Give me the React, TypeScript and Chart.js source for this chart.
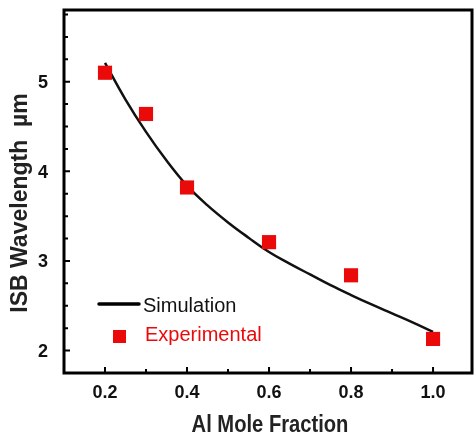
import { useEffect, useRef } from "react";
import { Chart, registerables } from "chart.js";

Chart.register(...registerables);

// Measured intersubband wavelength vs Al mole fraction
const fractions = [0.2, 0.3, 0.4, 0.6, 0.8, 1.0];
const measured = [5.1, 4.64, 3.82, 3.21, 2.84, 2.13];

// Simulated curve
const simFractions = [0.2, 0.25, 0.3, 0.35, 0.4, 0.45, 0.5, 0.55, 0.6, 0.65, 0.7, 0.75, 0.8, 0.85, 0.9, 0.95, 1.0];
const simWavelength = [5.21, 4.8, 4.44, 4.12, 3.84, 3.62, 3.43, 3.26, 3.1, 2.97, 2.85, 2.73, 2.62, 2.515, 2.415, 2.315, 2.21];

// Axis ticks
const xTicks = [0.2, 0.4, 0.6, 0.8, 1.0];
const xTickLabels = ["0.2", "0.4", "0.6", "0.8", "1.0"];
const xMinorTicks = [0.1, 0.3, 0.5, 0.7, 0.9];
const yTicks = [2, 3, 4, 5];
const yTickLabels = ["2", "3", "4", "5"];
const yMinorTicks = [2.25, 2.5, 2.75, 3.25, 3.5, 3.75, 4.25, 4.5, 4.75, 5.25, 5.5, 5.75];

const FONT = "'Liberation Sans', Arial, sans-serif";
const RED = "#ea0a0a";

const framePlugin = {
  id: "frameAndDecor",
  afterDraw(chart: any) {
    const { ctx, chartArea } = chart;
    const { left, right, top, bottom } = chartArea;
    const xs = chart.scales.x;
    const ys = chart.scales.y;
    ctx.save();

    // frame
    ctx.strokeStyle = "#000";
    ctx.lineWidth = 3;
    ctx.strokeRect(left, top, right - left, bottom - top);

    // inward ticks
    ctx.lineWidth = 2;
    ctx.beginPath();
    for (const v of xTicks) {
      const px = xs.getPixelForValue(v);
      ctx.moveTo(px, bottom);
      ctx.lineTo(px, bottom - 6);
    }
    for (const v of xMinorTicks) {
      const px = xs.getPixelForValue(v);
      ctx.moveTo(px, bottom);
      ctx.lineTo(px, bottom - 4);
    }
    for (const v of yTicks) {
      const py = ys.getPixelForValue(v);
      ctx.moveTo(left, py);
      ctx.lineTo(left + 6, py);
    }
    for (const v of yMinorTicks) {
      const py = ys.getPixelForValue(v);
      ctx.moveTo(left, py);
      ctx.lineTo(left + 4, py);
    }
    ctx.stroke();

    // tick labels
    ctx.fillStyle = "#111";
    ctx.font = `bold 18px ${FONT}`;
    ctx.textBaseline = "alphabetic";
    ctx.textAlign = "center";
    xTicks.forEach((v, i) => {
      ctx.fillText(xTickLabels[i], xs.getPixelForValue(v), bottom + 25);
    });
    ctx.textAlign = "right";
    yTicks.forEach((v, i) => {
      ctx.fillText(yTickLabels[i], left - 16, ys.getPixelForValue(v) + 6.5);
    });

    // legend
    ctx.lineWidth = 3.5;
    ctx.lineCap = "round";
    ctx.beginPath();
    ctx.moveTo(99, 304);
    ctx.lineTo(139, 304);
    ctx.stroke();
    ctx.fillStyle = RED;
    ctx.fillRect(113, 330, 13, 13);
    ctx.font = `20px ${FONT}`;
    ctx.textAlign = "left";
    ctx.fillStyle = "#111";
    ctx.fillText("Simulation", 143, 312);
    ctx.fillStyle = RED;
    ctx.fillText("Experimental", 145, 341);

    // axis titles
    ctx.fillStyle = "#222";
    ctx.font = `bold 23px ${FONT}`;
    ctx.save();
    ctx.translate(27, 203);
    ctx.rotate(-Math.PI / 2);
    ctx.textAlign = "center";
    ctx.fillText("ISB Wavelength  \u00b5m", 0, 0);
    ctx.restore();

    ctx.save();
    ctx.font = `bold 24px ${FONT}`;
    ctx.translate(270, 432);
    ctx.scale(0.84, 1);
    ctx.textAlign = "center";
    ctx.fillText("Al Mole Fraction", 0, 0);
    ctx.restore();

    ctx.restore();
  },
};

export default function App() {
  const canvasRef = useRef<HTMLCanvasElement | null>(null);

  useEffect(() => {
    const canvas = canvasRef.current;
    if (!canvas) return;
    const chart = new Chart(canvas, {
      type: "scatter",
      data: {
        datasets: [
          {
            label: "Experimental",
            data: fractions.map((x, i) => ({ x, y: measured[i] })),
            pointStyle: "rect",
            pointRadius: 10,
            pointHoverRadius: 10,
            backgroundColor: RED,
            borderColor: RED,
            borderWidth: 0,
            showLine: false,
          },
          {
            label: "Simulation",
            data: simFractions.map((x, i) => ({ x, y: simWavelength[i] })),
            showLine: true,
            borderColor: "#111",
            borderWidth: 2.5,
            pointRadius: 0,
            tension: 0.4,
            fill: false,
          },
        ],
      },
      options: {
        animation: false,
        responsive: false,
        layout: { autoPadding: false, padding: { top: 10, right: 2, left: 0, bottom: 0 } },
        plugins: {
          legend: { display: false },
          tooltip: { enabled: false },
        },
        scales: {
          x: {
            type: "linear",
            min: 0.1,
            max: 1.095,
            afterBuildTicks: (s: any) => {
              s.ticks = xTicks.map((value) => ({ value }));
            },
            afterFit: (s: any) => {
              s.height = 64;
            },
            grid: { display: false, drawTicks: false },
            border: { display: false },
            ticks: { display: false },
          },
          y: {
            type: "linear",
            min: 1.75,
            max: 5.8,
            afterBuildTicks: (s: any) => {
              s.ticks = yTicks.map((value) => ({ value }));
            },
            afterFit: (s: any) => {
              s.width = 64;
            },
            grid: { display: false, drawTicks: false },
            border: { display: false },
            ticks: { display: false },
          },
        },
      },
      plugins: [framePlugin],
    } as any);
    return () => chart.destroy();
  }, []);

  return (
    <div style={{ position: "absolute", left: 0, top: 0, width: 474, height: 437, background: "#fff" }}>
      <canvas ref={canvasRef} width={474} height={437} />
    </div>
  );
}
